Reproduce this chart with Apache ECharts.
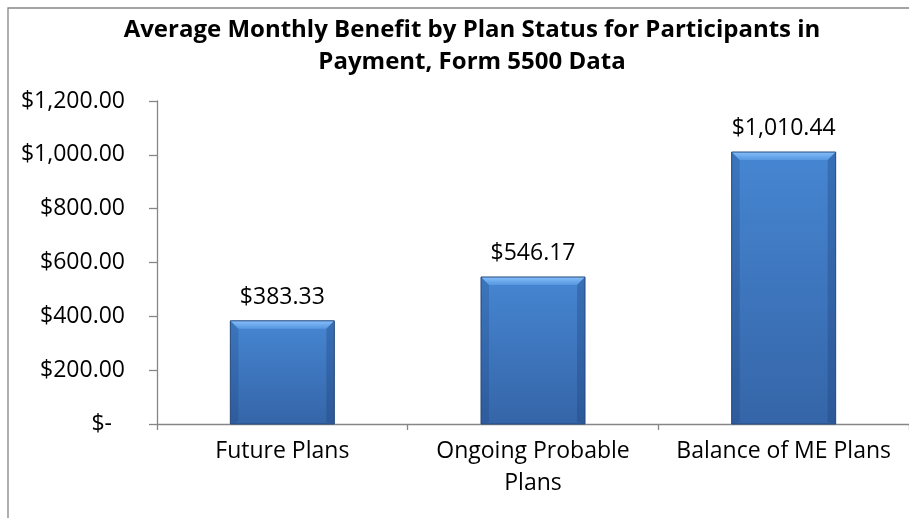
<!DOCTYPE html>
<html>
<head>
<meta charset="utf-8">
<script src="https://cdn.jsdelivr.net/npm/echarts@6/dist/echarts.min.js"></script>
<style>
  html, body { margin: 0; padding: 0; background: #fff; }
  #chart { width: 909px; height: 518px; }
</style>
</head>
<body>
<div id="chart"></div>
<script>
// data
const titleText = 'Average Monthly Benefit by Plan Status for Participants in\nPayment, Form 5500 Data'
const categories = ['Future Plans', 'Ongoing Probable\nPlans', 'Balance of ME Plans']
const benefits = [383.33, 546.17, 1010.44]
const yMin = 0
const yMax = 1200
const yStep = 200

const FONT = '"Open Sans", sans-serif'
const SIZE = 23
const BAR_W = 104
const BEVEL = 8

function money(v) {
  if (v === 0) return '{z|$-}'
  return '$' + v.toLocaleString('en-US', { minimumFractionDigits: 2, maximumFractionDigits: 2 })
}

// bevel edges drawn over each bar (Excel-style soft bevel)
function renderBevel(params, api) {
  const top = api.coord([api.value(0), api.value(1)])
  const base = api.coord([api.value(0), 0])
  const x0 = top[0] - BAR_W / 2
  const x1 = top[0] + BAR_W / 2
  const y0 = top[1]
  const y1 = base[1]
  const b = Math.min(BEVEL, (y1 - y0) / 2)
  return {
    type: 'group',
    children: [
      {
        type: 'polygon',
        shape: { points: [[x0, y0], [x1, y0], [x1 - b, y0 + b], [x0 + b, y0 + b]] },
        style: {
          fill: new echarts.graphic.LinearGradient(0, 0, 0, 1, [
            { offset: 0, color: 'rgba(140,195,255,0.95)' },
            { offset: 1, color: 'rgba(95,160,230,0.7)' },
          ]),
        },
      },
      {
        type: 'polygon',
        shape: { points: [[x0, y0], [x0 + b, y0 + b], [x0 + b, y1 - 2], [x0, y1]] },
        style: { fill: 'rgba(25,60,115,0.22)' },
      },
      {
        type: 'polygon',
        shape: { points: [[x1, y0], [x1 - b, y0 + b], [x1 - b, y1 - 2], [x1, y1]] },
        style: { fill: 'rgba(25,60,115,0.3)' },
      },
      {
        type: 'rect',
        shape: { x: x0, y: y0, width: BAR_W, height: y1 - y0 },
        style: { fill: 'none', stroke: '#24487c', lineWidth: 1 },
      },
    ],
  }
}

const chart = echarts.init(document.getElementById('chart'), null, { renderer: 'canvas' })

chart.setOption({
  animation: false,
  backgroundColor: '#fff',
  graphic: [
    {
      type: 'rect',
      shape: { x: 8, y: 8, width: 940, height: 540 },
      style: { fill: 'none', stroke: '#868686', lineWidth: 1.3 },
      silent: true,
      z: -10,
    },
    {
      type: 'text',
      x: 472,
      y: 14,
      style: {
        text: titleText,
        font: 'bold 24px ' + FONT,
        fill: '#000',
        align: 'center',
        verticalAlign: 'top',
        lineHeight: 32,
      },
    },
  ],
  grid: {
    left: 157,
    top: 101,
    width: 765,
    height: 323,
  },
  xAxis: {
    type: 'category',
    data: categories,
    axisLine: { lineStyle: { color: '#868686', width: 1.3 } },
    axisTick: { show: true, length: 6, lineStyle: { color: '#868686', width: 1.3 } },
    axisLabel: {
      color: '#000',
      fontFamily: FONT,
      fontSize: SIZE,
      lineHeight: 32,
      margin: 11,
      interval: 0,
    },
  },
  yAxis: {
    type: 'value',
    min: yMin,
    max: yMax,
    interval: yStep,
    splitLine: { show: false },
    axisLine: { show: true, lineStyle: { color: '#868686', width: 1.3 } },
    axisTick: { show: true, length: 8, lineStyle: { color: '#868686', width: 1.3 } },
    axisLabel: {
      color: '#000',
      fontFamily: FONT,
      fontSize: SIZE,
      margin: 32,
      formatter: money,
      rich: {
        z: { fontFamily: FONT, fontSize: SIZE, color: '#000', padding: [0, 13, 0, 0] },
      },
    },
  },
  series: [
    {
      type: 'bar',
      data: benefits,
      barWidth: BAR_W,
      itemStyle: {
        color: new echarts.graphic.LinearGradient(0, 0, 0, 1, [
          { offset: 0, color: '#4686d2' },
          { offset: 1, color: '#3565a8' },
        ]),
      },
      label: {
        show: true,
        position: 'top',
        distance: 12,
        color: '#000',
        fontFamily: FONT,
        fontSize: SIZE,
        formatter: (p) => money(p.value),
      },
      z: 2,
    },
    {
      type: 'custom',
      data: benefits.map((v, i) => [i, v]),
      renderItem: renderBevel,
      silent: true,
      z: 3,
    },
  ],
})
</script>
</body>
</html>
